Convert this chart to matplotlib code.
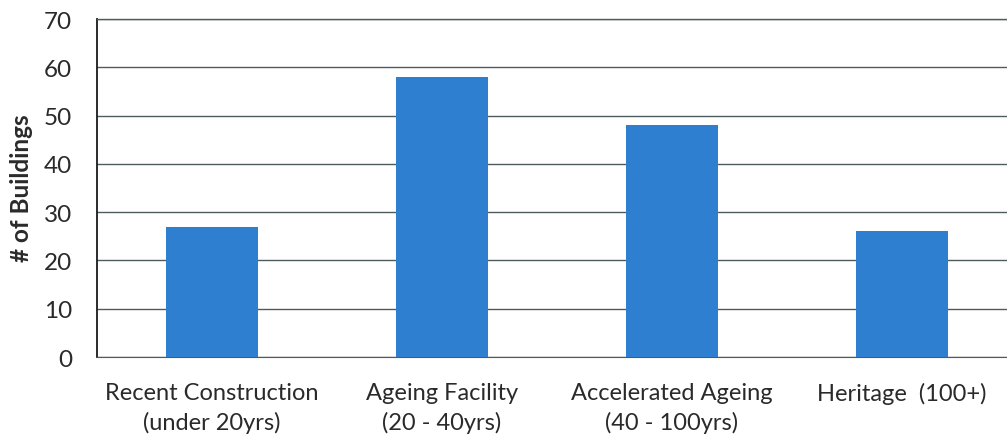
import numpy as np
import matplotlib
matplotlib.use('Agg')
from matplotlib import pyplot as plt

categories = ['Recent Construction\n(under 20yrs)', 'Ageing Facility\n(20 - 40yrs)',
              'Accelerated Ageing\n(40 - 100yrs)', 'Heritage  (100+)']
buildings = [27, 58, 48, 26]
yticks = [0, 10, 20, 30, 40, 50, 60, 70]

bar_color = '#2f7fd0'
grid_color = '#4d5a5e'
text_color = '#2a2a2a'

plt.rcParams['font.family'] = ['Lato', 'DejaVu Sans']

fig = plt.figure(figsize=(10.07, 4.39), dpi=100)
ax = fig.add_axes([0.0963, 0.1845, 0.9136, 0.7699])

x = np.arange(len(categories))
ax.bar(x, buildings, width=0.4, color=bar_color, zorder=3)

ax.set_xlim(-0.5, len(categories) - 0.5)
ax.set_ylim(0, 70)
ax.set_yticks(yticks)
ax.yaxis.grid(True, color=grid_color, linewidth=1.0, zorder=0)
ax.set_xticks(x)
ax.set_xticklabels(categories, fontsize=17, color=text_color, linespacing=1.45)
ax.tick_params(axis='y', labelsize=17.5, labelcolor=text_color, length=0, pad=18)
ax.tick_params(axis='x', length=0, pad=18)

ax.spines['right'].set_visible(False)
ax.spines['top'].set_color(grid_color)
ax.spines['top'].set_linewidth(1.0)
ax.spines['bottom'].set_color(grid_color)
ax.spines['left'].set_color('#1a1a1a')
ax.spines['left'].set_linewidth(1.3)

# y label placed by hand, close to the left edge
fig.text(0.021, 0.572, '# of Buildings', rotation=90, ha='center', va='center',
         fontsize=17.5, fontweight='bold', color=text_color)

fig.savefig('out.png', dpi=100)
